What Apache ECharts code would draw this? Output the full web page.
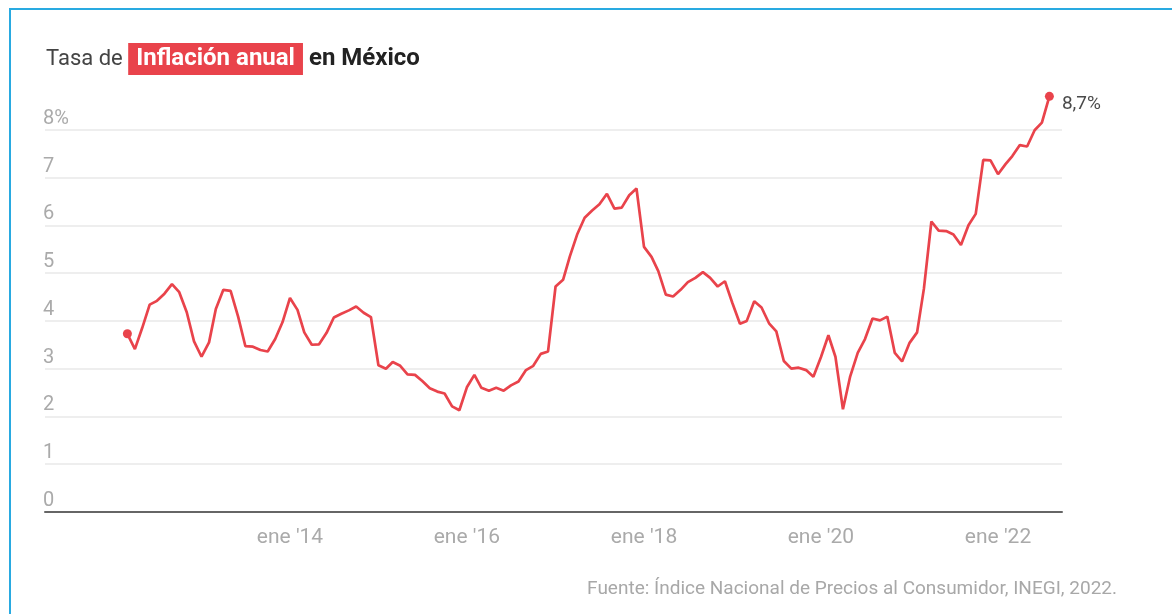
<!DOCTYPE html>
<html>
<head>
<meta charset="utf-8">
<script src="https://cdn.jsdelivr.net/npm/echarts@6/dist/echarts.min.js"></script>
<style>
html,body{margin:0;padding:0;background:#fff;}
#wrap{position:relative;width:1172px;height:614px;overflow:hidden;}
#frame{position:absolute;left:9px;top:8px;width:1300px;height:700px;border-top:2px solid #29aae1;border-left:2px solid #29aae1;}
#chart{position:absolute;left:0;top:0;width:1172px;height:614px;}
</style>
</head>
<body>
<div id="wrap"><div id="frame"></div><div id="chart"></div></div>
<script>
// Monthly data: first month March 2012, last month August 2022
const startYear = 2012;
const startMonth = 3;
const inflation = [
  3.73,3.41,3.85,4.34,4.42,4.57,4.77,4.60,4.18,3.57,
  3.25,3.55,4.25,4.65,4.63,4.09,3.47,3.46,3.39,3.36,3.62,3.97,
  4.48,4.23,3.76,3.50,3.51,3.75,4.07,4.15,4.22,4.30,4.17,4.08,
  3.07,3.00,3.14,3.06,2.88,2.87,2.74,2.59,2.52,2.48,2.21,2.13,
  2.61,2.87,2.60,2.54,2.60,2.54,2.65,2.73,2.97,3.06,3.31,3.36,
  4.72,4.86,5.35,5.82,6.16,6.31,6.44,6.66,6.35,6.37,6.63,6.77,
  5.55,5.34,5.04,4.55,4.51,4.65,4.81,4.90,5.02,4.90,4.72,4.83,
  4.37,3.94,4.00,4.41,4.28,3.95,3.78,3.16,3.00,3.02,2.97,2.83,
  3.24,3.70,3.25,2.15,2.84,3.33,3.62,4.05,4.01,4.09,3.33,3.15,
  3.54,3.76,4.67,6.08,5.89,5.88,5.81,5.59,6.00,6.24,7.37,7.36,
  7.07,7.28,7.45,7.68,7.65,7.99,8.15,8.70
];
const xTickYears = [2014, 2016, 2018, 2020, 2022];
const yTicks = [0,1,2,3,4,5,6,7,8];
const lastLabel = '8,7%';
const titleParts = ['Tasa de ', 'Inflación anual', ' en México'];
const sourceText = 'Fuente: Índice Nacional de Precios al Consumidor, INEGI, 2022.';

const RED = '#e9434b';
const FONT = 'Roboto';
const seriesData = inflation.map(function (v, i) {
  const d = Date.UTC(startYear, startMonth - 1 + i, 1);
  const item = { value: [d, v] };
  if (i === 0 || i === inflation.length - 1) {
    item.symbol = 'circle';
    item.symbolSize = 9;
  }
  if (i === inflation.length - 1) {
    item.label = {
      show: true, position: 'right', distance: 8, offset: [0, 8],
      formatter: lastLabel, fontSize: 19, color: '#4a4a4a', fontFamily: FONT
    };
  }
  return item;
});

const chart = echarts.init(document.getElementById('chart'), null, { renderer: 'canvas' });
chart.setOption({
  animation: false,
  backgroundColor: 'transparent',
  title: {
    left: 46, top: 47, padding: 0,
    text: '{a|' + titleParts[0] + '}{b|' + titleParts[1] + '}{c|' + titleParts[2] + '}',
    textStyle: {
      fontWeight: 'normal',
      rich: {
        a: { fontSize: 22, fontFamily: FONT, fontWeight: 'normal', color: '#444', lineHeight: 24, padding: [4,0,4,0], verticalAlign: 'middle' },
        b: { fontSize: 24, fontFamily: FONT, fontWeight: 'bold', color: '#fff', backgroundColor: RED, lineHeight: 24, padding: [4,8,4,8], verticalAlign: 'middle' },
        c: { fontSize: 24, fontFamily: FONT, fontWeight: 'bold', color: '#222', lineHeight: 24, padding: [4,0,4,0], verticalAlign: 'middle' }
      }
    }
  },
  grid: { left: 45, right: 110, top: 82, bottom: 102, containLabel: false },
  xAxis: {
    type: 'value',
    min: Date.UTC(2011, 2, 27),
    max: Date.UTC(2022, 8, 22),
    axisLine: { show: true, onZero: false, lineStyle: { color: '#666', width: 2 } },
    axisTick: { show: false },
    splitLine: { show: false },
    axisLabel: {
      customValues: xTickYears.map(function (y) { return Date.UTC(y, 0, 1); }),
      formatter: function (v) { return "ene '" + String(new Date(v).getUTCFullYear()).slice(2); },
      fontSize: 21, fontFamily: FONT, color: '#aaa', margin: 15
    }
  },
  yAxis: {
    type: 'value', min: 0, max: 9, interval: 1,
    axisLine: { show: false },
    axisTick: { show: false },
    splitLine: { show: true, showMaxLine: false, lineStyle: { color: '#e8e8e8', width: 1.5 } },
    axisLabel: {
      inside: true, margin: -2, showMaxLabel: false,
      formatter: function (v) { return yTicks.indexOf(v) < 0 ? '' : (v === 8 ? '8%' : String(v)); },
      fontSize: 20, fontFamily: FONT, color: '#aaa',
      verticalAlign: 'bottom', lineHeight: 20, padding: [0,0,1,0]
    }
  },
  series: [{
    type: 'line',
    data: seriesData,
    symbol: 'none',
    showSymbol: true,
    lineStyle: { color: RED, width: 2.7 },
    itemStyle: { color: RED },
    z: 5
  }],
  graphic: [{
    type: 'text', right: 1172 - 1117, top: 580,
    style: { text: sourceText, fontSize: 19, fontFamily: FONT, fill: '#a8a8a8' }
  }]
});
</script>
</body>
</html>
